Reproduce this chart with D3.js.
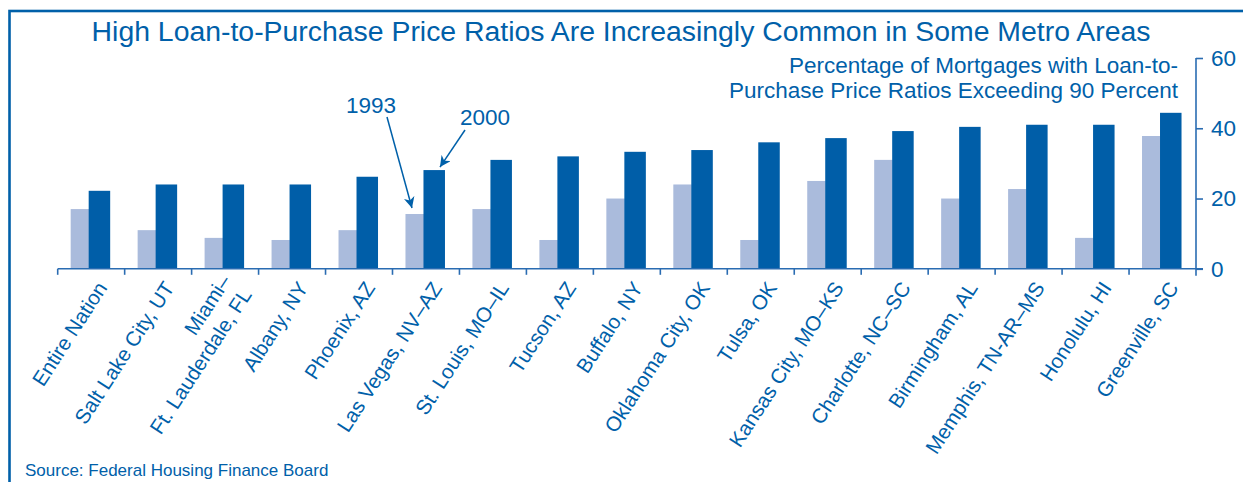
<!DOCTYPE html>
<html>
<head>
<meta charset="utf-8">
<script src="https://cdn.jsdelivr.net/npm/d3@7"></script>
<style>
  html, body { margin: 0; padding: 0; background: #fff; }
  svg { display: block; font-family: "Liberation Sans", Arial, sans-serif; }
</style>
</head>
<body>
<div id="chart"></div>
<script>
// data
const categories = ["Entire Nation", "Salt Lake City, UT", "Miami–\nFt. Lauderdale, FL", "Albany, NY",
    "Phoenix, AZ", "Las Vegas, NV–AZ", "St. Louis, MO–IL", "Tucson, AZ", "Buffalo, NY",
    "Oklahoma City, OK", "Tulsa, OK", "Kansas City, MO–KS", "Charlotte, NC–SC", "Birmingham, AL",
    "Memphis, TN-AR–MS", "Honolulu, HI", "Greenville, SC"];
const values1993 = [17, 11, 8.8, 8.2, 11, 15.6, 17, 8.2, 20, 24, 8.2, 25, 31, 20, 22.7, 8.8, 37.8];
const values2000 = [22.2, 24, 24, 24, 26.2, 28.1, 31, 32, 33.3, 33.8, 36, 37.2, 39.2, 40.4, 41, 41, 44.4];
const yTicks = [0, 20, 40, 60];
const title = "High Loan-to-Purchase Price Ratios Are Increasingly Common in Some Metro Areas";
const subtitle = ["Percentage of Mortgages with Loan-to-", "Purchase Price Ratios Exceeding 90 Percent"];
const source = "Source: Federal Housing Finance Board";

const width = 1243, height = 482;
const blue = "#0060a9";
const dark = "#005ea8";
const light = "#aabbdc";

const svg = d3.select("#chart").append("svg")
    .attr("width", width)
    .attr("height", height);

// frame (top + left edges visible)
svg.append("rect")
    .attr("x", 9.5).attr("y", 11)
    .attr("width", width + 20).attr("height", height + 20)
    .attr("fill", "none")
    .attr("stroke", blue)
    .attr("stroke-width", 2.6);

const x = d3.scaleBand()
    .domain(categories)
    .range([57.7, 1196]);

const y = d3.scaleLinear()
    .domain([0, 60])
    .range([268.8, 58]);

// bars
const groups = svg.append("g").selectAll("g")
    .data(categories)
    .join("g")
    .attr("transform", d => `translate(${x(d) + x.bandwidth() / 2},0)`);

groups.append("rect")
    .attr("x", -20.5)
    .attr("width", 18.5)
    .attr("y", (d, i) => y(values1993[i]))
    .attr("height", (d, i) => y(0) - y(values1993[i]))
    .attr("fill", light);

groups.append("rect")
    .attr("x", -2.5)
    .attr("width", 21.5)
    .attr("y", (d, i) => y(values2000[i]))
    .attr("height", (d, i) => y(0) - y(values2000[i]))
    .attr("fill", dark);

// x axis: baseline + ticks at band edges
const xAxisG = svg.append("g").attr("stroke", "#2a6cb2").attr("stroke-width", 1.6);
xAxisG.append("line")
    .attr("x1", x.range()[0]).attr("x2", 1203)
    .attr("y1", y(0)).attr("y2", y(0));
xAxisG.selectAll("line.tick")
    .data(categories)
    .join("line")
    .attr("class", "tick")
    .attr("x1", d => x(d)).attr("x2", d => x(d))
    .attr("y1", y(0)).attr("y2", y(0) + 6);

// category labels
const angle = -57;
const fs = 20.6, lh = 25;
svg.append("g").selectAll("text")
    .data(categories)
    .join("text")
    .attr("transform", d => `translate(${x(d) + x.bandwidth() / 2 + 11},284) rotate(${angle})`)
    .attr("text-anchor", "end")
    .attr("font-size", fs)
    .attr("fill", blue)
    .each(function (d) {
        const lines = d.split("\n");
        d3.select(this).selectAll("tspan")
            .data(lines)
            .join("tspan")
            .attr("x", 0)
            .attr("y", (l, i) => (i - (lines.length - 1) / 2) * lh + 7)
            .text(l => l);
    });

// right y axis
const yAxisG = svg.append("g")
    .attr("transform", `translate(1196,0)`)
    .call(d3.axisRight(y).tickValues(yTicks).tickSize(7).tickPadding(8));
yAxisG.select(".domain").attr("stroke", "#2a6cb2").attr("stroke-width", 1.6)
    .attr("d", `M0,${y(60)}V${y(0) + 7}`);
yAxisG.selectAll(".tick line").attr("stroke", "#2a6cb2").attr("stroke-width", 1.6);
yAxisG.selectAll(".tick text")
    .attr("fill", blue)
    .attr("font-size", 22.5)
    .attr("font-family", "Liberation Sans, Arial, sans-serif");

// title, subtitle, source
svg.append("text")
    .attr("x", 621).attr("y", 41)
    .attr("text-anchor", "middle")
    .attr("font-size", 28.4)
    .attr("fill", blue)
    .text(title);

svg.append("g").selectAll("text")
    .data(subtitle)
    .join("text")
    .attr("x", 1178)
    .attr("y", (d, i) => 73 + i * 25)
    .attr("text-anchor", "end")
    .attr("font-size", 22.5)
    .attr("fill", blue)
    .text(d => d);

svg.append("text")
    .attr("x", 25).attr("y", 476)
    .attr("font-size", 17)
    .attr("fill", blue)
    .text(source);

// annotations with arrows
svg.append("defs").append("marker")
    .attr("id", "arrow")
    .attr("viewBox", "0 0 10 10")
    .attr("refX", 10).attr("refY", 5)
    .attr("markerWidth", 11).attr("markerHeight", 11)
    .attr("markerUnits", "userSpaceOnUse")
    .attr("orient", "auto")
    .append("path")
    .attr("d", "M0,0 L10,5 L0,10 L3,5 Z")
    .attr("fill", blue);

const lv = categories.indexOf("Las Vegas, NV–AZ");
const cx = x(categories[lv]) + x.bandwidth() / 2;
const top93 = y(values1993[lv]), top00 = y(values2000[lv]);

svg.append("line")
    .attr("x1", 387).attr("y1", 117)
    .attr("x2", cx - 14).attr("y2", top93 - 6)
    .attr("stroke", blue).attr("stroke-width", 1.5)
    .attr("marker-end", "url(#arrow)");
svg.append("text")
    .attr("x", 371).attr("y", 113)
    .attr("text-anchor", "middle")
    .attr("font-size", 22.5)
    .attr("fill", blue)
    .text("1993");

svg.append("line")
    .attr("x1", 465).attr("y1", 130)
    .attr("x2", cx + 14).attr("y2", top00 - 3)
    .attr("stroke", blue).attr("stroke-width", 1.5)
    .attr("marker-end", "url(#arrow)");
svg.append("text")
    .attr("x", 485).attr("y", 125)
    .attr("text-anchor", "middle")
    .attr("font-size", 22.5)
    .attr("fill", blue)
    .text("2000");
</script>
</body>
</html>
